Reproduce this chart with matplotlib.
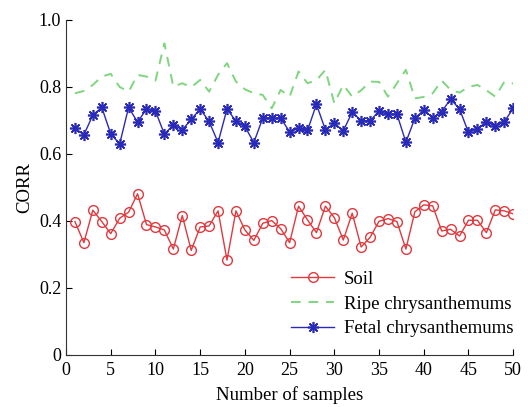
import numpy as np
import matplotlib.pyplot as plt

plt.rcParams['font.family'] = ['Liberation Serif', 'DejaVu Serif']

samples = np.arange(1, 51)
soil = [0.398, 0.335, 0.432, 0.398, 0.362, 0.408, 0.426, 0.481, 0.389, 0.382,
        0.373, 0.316, 0.416, 0.312, 0.382, 0.385, 0.430, 0.283, 0.430, 0.373,
        0.342, 0.393, 0.401, 0.377, 0.335, 0.444, 0.403, 0.365, 0.444, 0.410,
        0.343, 0.423, 0.322, 0.351, 0.399, 0.407, 0.398, 0.316, 0.427, 0.448,
        0.445, 0.370, 0.375, 0.355, 0.402, 0.402, 0.365, 0.433, 0.430, 0.421]
ripe = [0.781, 0.788, 0.806, 0.831, 0.839, 0.800, 0.786, 0.836, 0.831, 0.819,
        0.930, 0.801, 0.811, 0.799, 0.821, 0.786, 0.836, 0.871, 0.816, 0.793,
        0.781, 0.776, 0.736, 0.791, 0.771, 0.846, 0.811, 0.820, 0.851, 0.751,
        0.806, 0.771, 0.790, 0.816, 0.815, 0.771, 0.811, 0.851, 0.766, 0.770,
        0.781, 0.819, 0.791, 0.783, 0.800, 0.806, 0.790, 0.771, 0.815, 0.810]
fetal = [0.677, 0.657, 0.716, 0.739, 0.660, 0.630, 0.739, 0.695, 0.734, 0.728,
         0.659, 0.687, 0.672, 0.703, 0.734, 0.697, 0.634, 0.734, 0.698, 0.682,
         0.634, 0.707, 0.707, 0.707, 0.666, 0.676, 0.670, 0.748, 0.672, 0.692,
         0.669, 0.725, 0.699, 0.699, 0.728, 0.718, 0.719, 0.635, 0.706, 0.731,
         0.708, 0.726, 0.764, 0.734, 0.664, 0.675, 0.696, 0.682, 0.696, 0.736]

fig = plt.figure(figsize=(5.28, 4.07), dpi=100)
ax = fig.add_axes([0.125, 0.128, 0.847, 0.823])

ax.plot(samples, soil, color='#e0393e', lw=1.0, marker='o', mfc='none',
        mec='#e0393e', ms=7, mew=1.0, label='Soil')
ax.plot(samples, ripe, color='#7fd67f', lw=1.4, ls=(0, (5, 4)),
        label='Ripe chrysanthemums')
ax.plot(samples, fetal, color='#2a2ab8', lw=1.0, marker=(8, 2, 0), ms=8,
        mew=1.2, label='Fetal chrysanthemums')

ax.set_xlim(0, 50)
ax.set_ylim(0, 1.0)
ax.set_xticks(np.arange(0, 51, 5))
ax.set_yticks([0, 0.2, 0.4, 0.6, 0.8, 1.0])
ax.set_yticklabels(['0', '0.2', '0.4', '0.6', '0.8', '1.0'])
ax.spines['top'].set_visible(False)
ax.spines['right'].set_visible(False)
ax.spines['left'].set_color('#333333')
ax.spines['bottom'].set_color('#333333')
ax.tick_params(direction='in', labelsize=13, length=4)
ax.tick_params(axis='x', pad=5)
ax.set_xlabel('Number of samples', fontsize=13.5, labelpad=5)
ax.set_ylabel('CORR', fontsize=13.5)

ax.legend(loc='center left', bbox_to_anchor=(0.466, 0.152), frameon=False,
          fontsize=13.5, handlelength=2.3, handletextpad=0.5,
          labelspacing=0.4)

fig.savefig('out.png')
